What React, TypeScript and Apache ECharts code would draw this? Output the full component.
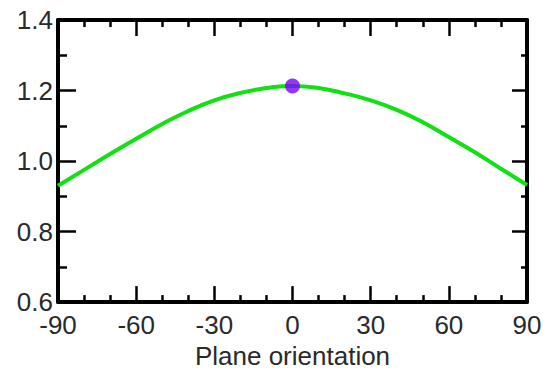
import React, { useEffect, useRef } from "react";
import * as echarts from "echarts";

const angles = [-90, -80, -70, -60, -50, -40, -30, -20, -10, 0, 10, 20, 30, 40, 50, 60, 70, 80, 90];
const values = [0.930, 0.975, 1.020, 1.063, 1.105, 1.142, 1.172, 1.193, 1.207, 1.213, 1.207, 1.192, 1.172, 1.145, 1.110, 1.068, 1.025, 0.978, 0.932];
const markerPoint = [0, 1.213];
const xName = "Plane orientation";

export default function App() {
  const ref = useRef<HTMLDivElement>(null);
  useEffect(() => {
    if (!ref.current) return;
    const chart = echarts.init(ref.current, null, { renderer: "svg" });
    const font = "'Liberation Sans', Arial, sans-serif";
    const mkLine = () => ({ show: true, onZero: false, lineStyle: { color: "#000", width: 4 } });
    const mkTick = (len: number) => ({ show: true, inside: true, length: len, lineStyle: { color: "#000", width: 2.5 } });
    const mkMinor = (n: number, len: number) => ({ show: true, splitNumber: n, length: len, lineStyle: { color: "#000", width: 2.5 } });
    chart.setOption({
      animation: false,
      backgroundColor: "#fff",
      grid: { left: 58, right: 26, top: 20, bottom: 67, containLabel: false },
      xAxis: [
        {
          type: "value",
          min: -90,
          max: 90,
          interval: 30,
          position: "bottom",
          name: xName,
          nameLocation: "middle",
          nameGap: 36,
          nameTextStyle: { fontSize: 26, color: "#2a2a2a", fontFamily: font },
          axisLine: mkLine(),
          axisTick: mkTick(16),
          minorTick: mkMinor(3, 7),
          axisLabel: { fontSize: 26, color: "#2a2a2a", fontFamily: font, margin: 10 },
          splitLine: { show: false },
        },
        {
          type: "value",
          min: -90,
          max: 90,
          interval: 30,
          position: "top",
          axisLine: mkLine(),
          axisTick: mkTick(16),
          minorTick: mkMinor(3, 7),
          axisLabel: { show: false },
          splitLine: { show: false },
        },
      ],
      yAxis: [
        {
          type: "value",
          min: 0.6,
          max: 1.4,
          interval: 0.2,
          position: "left",
          axisLine: mkLine(),
          axisTick: mkTick(18),
          minorTick: mkMinor(2, 9),
          axisLabel: {
            fontSize: 26,
            color: "#2a2a2a",
            fontFamily: font,
            margin: 5,
            formatter: (v: number) => v.toFixed(1),
          },
          splitLine: { show: false },
        },
        {
          type: "value",
          min: 0.6,
          max: 1.4,
          interval: 0.2,
          position: "right",
          axisLine: mkLine(),
          axisTick: mkTick(15),
          minorTick: mkMinor(2, 6),
          axisLabel: { show: false },
          splitLine: { show: false },
        },
      ],
      series: [
        {
          type: "line",
          data: angles.map((a, i) => [a, values[i]]),
          smooth: true,
          showSymbol: false,
          lineStyle: { color: "#11e011", width: 4 },
          z: 2,
        },
        {
          type: "scatter",
          data: [markerPoint],
          symbolSize: 15,
          itemStyle: { color: "#7d00ff" },
          z: 3,
        },
      ],
    });
    return () => chart.dispose();
  }, []);
  return <div ref={ref} style={{ width: 553, height: 374, position: "absolute", left: 0, top: 0 }} />;
}
